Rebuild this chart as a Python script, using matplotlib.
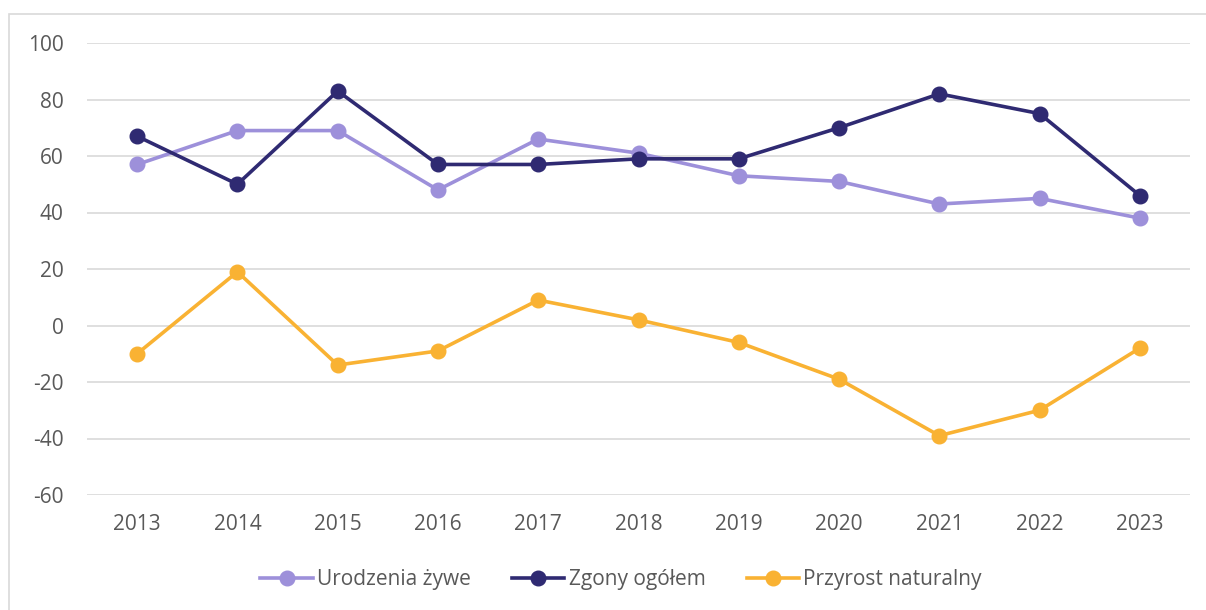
import matplotlib
matplotlib.use("Agg")
import matplotlib.pyplot as plt
from matplotlib.patches import Rectangle

# dane
years = ["2013", "2014", "2015", "2016", "2017", "2018", "2019", "2020", "2021", "2022", "2023"]
urodzenia = [57, 69, 69, 48, 66, 61, 53, 51, 43, 45, 38]
zgony = [67, 50, 83, 57, 57, 59, 59, 70, 82, 75, 46]
przyrost = [-10, 19, -14, -9, 9, 2, -6, -19, -39, -30, -8]

series_names = ["Urodzenia żywe", "Zgony ogółem", "Przyrost naturalny"]
colors = ["#9D90DA", "#2F2A72", "#F9B233"]
yticks = [-60, -40, -20, 0, 20, 40, 60, 80, 100]

plt.rcParams['font.family'] = ['Open Sans', 'DejaVu Sans']
plt.rcParams['axes.unicode_minus'] = False

fig = plt.figure(figsize=(12.06, 6.10), dpi=100)
fig.patch.set_facecolor('white')

# ramka wykresu (jak w Excelu)
fig.patches.append(Rectangle((9 / 1206, -0.05), 1.2, 0.977 + 0.05,
                             transform=fig.transFigure, fill=False,
                             edgecolor='#D9D9D9', linewidth=1.2))

ax = fig.add_axes([87 / 1206, 1 - 495 / 610, (1190 - 87) / 1206, (495 - 43) / 610])
x = list(range(len(years)))

for vals, name, col in zip([urodzenia, zgony, przyrost], series_names, colors):
    ax.plot(x, vals, color=col, linewidth=2.6, marker='o', markersize=10.5,
            label=name, zorder=3)

ax.set_xlim(-0.5, len(years) - 0.5)
ax.set_ylim(-60, 100)
ax.set_yticks(yticks)
ax.set_xticks(x)
ax.set_xticklabels(years)
ax.grid(axis='y', color='#D9D9D9', linewidth=1.2)
ax.set_axisbelow(True)
for s in ax.spines.values():
    s.set_visible(False)
ax.tick_params(length=0, labelsize=15, colors='#595959')
ax.tick_params(axis='x', pad=14)
ax.tick_params(axis='y', pad=17)

leg = fig.legend(loc='center', bbox_to_anchor=(0.515, 1 - 580 / 610), ncol=3,
                 frameon=False, fontsize=15, handlelength=2.5, columnspacing=2.0,
                 handletextpad=0.2)
for t in leg.get_texts():
    t.set_color('#595959')

fig.savefig("out.png", dpi=100, facecolor='white')
